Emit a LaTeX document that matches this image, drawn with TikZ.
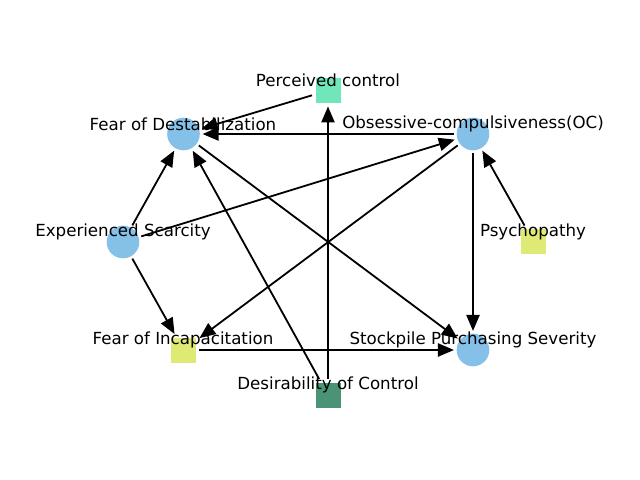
\documentclass[tikz,border=0pt]{standalone}
\usepackage{fontspec}
\setmainfont{DejaVu Sans}
\usetikzlibrary{arrows.meta}
\definecolor{nblue}{RGB}{133,192,233}
\definecolor{nmint}{RGB}{112,230,186}
\definecolor{nyellow}{RGB}{222,234,116}
\definecolor{ngreen}{RGB}{74,147,117}
\tikzset{
  cnode/.style={circle, fill=nblue, minimum size=23.5pt, inner sep=0pt, outer sep=2pt},
  snode/.style={rectangle, minimum size=18pt, inner sep=0pt, outer sep=2.5pt},
  lbl/.style={font=\fontsize{12}{14}\selectfont, inner sep=0pt},
  edge/.style={line width=1.3pt, -{Triangle[length=11.5pt,width=9.5pt]}}
}
\begin{document}
\begin{tikzpicture}[x=0.72pt, y=-0.72pt]
\useasboundingbox (0,0) rectangle (640,480);
% nodes
\node[snode, fill=nmint] (pc) at (328,90.5) {};
\node[cnode] (fod) at (183.5,134) {};
\node[cnode] (oc) at (473,134) {};
\node[cnode] (es) at (123,242) {};
\node[snode, fill=nyellow] (psy) at (533.5,241.5) {};
\node[snode, fill=nyellow] (foi) at (183.5,350) {};
\node[cnode] (sps) at (473,350) {};
\node[snode, fill=ngreen] (doc) at (328,395) {};
% edges
\draw[edge] (es) -- (fod);
\draw[edge] (es) -- (oc);
\draw[edge] (es) -- (foi);
\draw[edge] (pc) -- (fod);
\draw[edge] (oc) -- (fod);
\draw[edge] (oc) -- (foi);
\draw[edge] (oc) -- (sps);
\draw[edge] (doc) -- (fod);
\draw[edge] (doc) -- (pc);
\draw[edge] (fod) -- (sps);
\draw[edge] (psy) -- (oc);
\draw[edge] (foi) -- (sps);
% labels
\node[lbl] (lpc) at (328,80) {Perceived control};
\node[lbl] (lfod) at (183,124) {Fear of Destabilization};
\node[lbl] (loc) at (473,124) {Obsessive-compulsiveness(OC)};
\node[lbl] (les) at (123,232) {Experienced Scarcity};
\node[lbl] (lpsy) at (533,232) {Psychopathy};
\node[lbl] (lfoi) at (183,340) {Fear of Incapacitation};
\node[lbl] (lsps) at (473,340) {Stockpile Purchasing Severity};
\node[lbl] (ldoc) at (328,385) {Desirability of Control};
\end{tikzpicture}
\end{document}
